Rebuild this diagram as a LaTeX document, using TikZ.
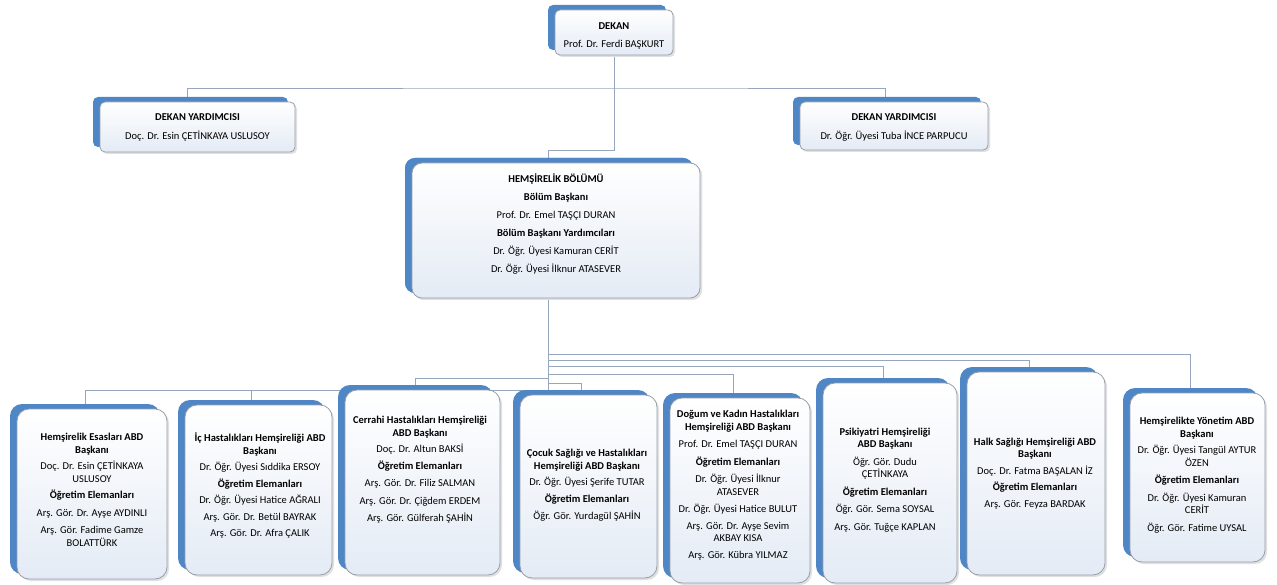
\documentclass[tikz,border=0pt]{standalone}
\usepackage{fontspec}
\setmainfont{Carlito}
\usetikzlibrary{backgrounds}
\usetikzlibrary{calc}

\definecolor{backblue}{RGB}{79,134,198}
\definecolor{facebot}{RGB}{228,235,245}
\definecolor{rimgray}{RGB}{150,158,170}
\definecolor{linkgray}{RGB}{150,166,188}

\tikzset{
  unit/.style={draw=rimgray, line width=0.8pt, rounded corners=#1, top color=white, bottom color=facebot, inner sep=0pt,
    preaction={fill=black!12, rounded corners=#1, transform canvas={shift={(2pt,-2pt)}}},
    preaction={fill=backblue, rounded corners=#1, transform canvas={shift={(-7pt,5pt)}}}},
  head/.style={unit=5pt},
  dept/.style={unit=12pt},
  txt/.style={align=center, inner sep=0pt, font=\fontsize{10.5}{#1}\selectfont},
  txt/.default=12.5,
  link/.style={draw=linkgray, line width=0.8pt}
}

\begin{document}
\begin{tikzpicture}[x=1pt, y=-1pt]
  \useasboundingbox (0,0) rectangle (1277,585);

  % dekanlik
  \node[head, minimum width=118pt, minimum height=45pt] (dekan) at (614,32.5) {};
  \node[txt=18] (dekant) at (614,36) {\textbf{DEKAN}\\Prof. Dr. Ferdi BAŞKURT};
  \node[head, minimum width=195pt, minimum height=50pt] (dyl) at (197.5,127) {};
  \node[txt=19] (dylt) at (197.5,127.5) {\textbf{DEKAN YARDIMCISI}\\Doç. Dr. Esin ÇETİNKAYA USLUSOY};
  \node[head, minimum width=188pt, minimum height=48pt] (dyr) at (894,126) {};
  \node[txt=19] (dyrt) at (894,127.5) {\textbf{DEKAN YARDIMCISI}\\Dr. Öğr. Üyesi Tuba İNCE PARPUCU};
  \node[head, unit=10pt, minimum width=288pt, minimum height=135pt] (hb) at (556,230.5) {};
  \node[txt=18] (hbt) at (556,224.5)
    {\textbf{HEMŞİRELİK BÖLÜMÜ}\\\textbf{Bölüm Başkanı}\\Prof. Dr. Emel TAŞÇI DURAN\\
     \textbf{Bölüm Başkanı Yardımcıları}\\Dr. Öğr. Üyesi Kamuran CERİT\\Dr. Öğr. Üyesi İlknur ATASEVER};

  % anabilim dallari
  \node[dept, minimum width=150pt, minimum height=170pt] (b1) at (92,494) {};
  \node[txt] (b1t) at (92,490)
    {\textbf{Hemşirelik Esasları ABD}\\\textbf{Başkanı}\\[4pt]Doç. Dr. Esin ÇETİNKAYA\\USLUSOY\\[4pt]
     \textbf{Öğretim Elemanları}\\[5pt]Arş. Gör. Dr. Ayşe AYDINLI\\[5pt]Arş. Gör. Fadime Gamze\\BOLATTÜRK};
  \node[dept, minimum width=147pt, minimum height=170pt] (b2) at (258.5,490) {};
  \node[txt] (b2t) at (260,485.5)
    {\textbf{İç Hastalıkları Hemşireliği ABD}\\\textbf{Başkanı}\\[4pt]Dr. Öğr. Üyesi Sıddika ERSOY\\[4pt]
     \textbf{Öğretim Elemanları}\\[4pt]Dr. Öğr. Üyesi Hatice AĞRALI\\[4pt]Arş. Gör. Dr. Betül BAYRAK\\[4pt]Arş. Gör. Dr. Afra ÇALIK};
  \node[dept, minimum width=155pt, minimum height=185pt] (b3) at (422.5,482.5) {};
  \node[txt] (b3t) at (420,470)
    {\textbf{Cerrahi Hastalıkları Hemşireliği}\\\textbf{ABD Başkanı}\\[4pt]Doç. Dr. Altun BAKSİ\\[4pt]
     \textbf{Öğretim Elemanları}\\[5pt]Arş. Gör. Dr. Filiz SALMAN\\[5pt]Arş. Gör. Dr. Çiğdem ERDEM\\[5pt]Arş. Gör. Gülferah ŞAHİN};
  \node[dept, minimum width=137pt, minimum height=183pt] (b4) at (588.5,486.5) {};
  \node[txt] (b4t) at (587,485.5)
    {\textbf{Çocuk Sağlığı ve Hastalıkları}\\\textbf{Hemşireliği ABD Başkanı}\\[4pt]Dr. Öğr. Üyesi Şerife TUTAR\\[4pt]
     \textbf{Öğretim Elemanları}\\[5pt]Öğr. Gör. Yurdagül ŞAHİN};
  \node[dept, minimum width=140pt, minimum height=185pt] (b5) at (740,490.5) {};
  \node[txt] (b5t) at (738,485)
    {\textbf{Doğum ve Kadın Hastalıkları}\\\textbf{Hemşireliği ABD Başkanı}\\[5pt]Prof. Dr. Emel TAŞÇI DURAN\\[5pt]
     \textbf{Öğretim Elemanları}\\[5pt]Dr. Öğr. Üyesi İlknur\\ATASEVER\\[5pt]Dr. Öğr. Üyesi Hatice BULUT\\[4pt]
     Arş. Gör. Dr. Ayşe Sevim\\AKBAY KISA\\[4pt]Arş. Gör. Kübra YILMAZ};
  \node[dept, minimum width=134pt, minimum height=200pt] (b6) at (890,483) {};
  \node[txt] (b6t) at (885,480)
    {\textbf{Psikiyatri Hemşireliği}\\\textbf{ABD Başkanı}\\[5pt]Öğr. Gör. Dudu\\ÇETİNKAYA\\[5pt]
     \textbf{Öğretim Elemanları}\\[5pt]Öğr. Gör. Sema SOYSAL\\[5pt]Arş. Gör. Tuğçe KAPLAN};
  \node[dept, minimum width=138pt, minimum height=203pt] (b7) at (1036,473.5) {};
  \node[txt] (b7t) at (1035,473.5)
    {\textbf{Halk Sağlığı Hemşireliği ABD}\\\textbf{Başkanı}\\[4pt]Doç. Dr. Fatma BAŞALAN İZ\\[4pt]
     \textbf{Öğretim Elemanları}\\[4pt]Arş. Gör. Feyza BARDAK};
  \node[dept, minimum width=135pt, minimum height=169pt] (b8) at (1197.5,477.5) {};
  \node[txt] (b8t) at (1197,475)
    {\textbf{Hemşirelikte Yönetim ABD}\\\textbf{Başkanı}\\[4pt]Dr. Öğr. Üyesi Tangül AYTUR\\ÖZEN\\[5pt]
     \textbf{Öğretim Elemanları}\\[5pt]Dr. Öğr. Üyesi Kamuran\\CERİT\\[5pt]Öğr. Gör. Fatime UYSAL};

  % baglantilar
  \coordinate (topbus) at (614,88);
  \coordinate (hbin) at (548,150);
  \coordinate (fan) at (548,298);
  \begin{scope}[on background layer]
    \draw[link] (dekan.south) -- (topbus);
    \draw[link] ([xshift=-10pt]dyl.north) |- (topbus) -| ([xshift=-9pt]dyr.north);
    \draw[link] (topbus) |- (hbin) -- (hbin |- hb.north);
    \foreach \b/\y in {b1/390, b2/390, b3/378, b4/383, b5/374, b6/366, b7/360, b8/354}
      \draw[link] (fan) -- (548,\y) -| ([xshift=-7pt]\b.north);
  \end{scope}
\end{tikzpicture}
\end{document}
